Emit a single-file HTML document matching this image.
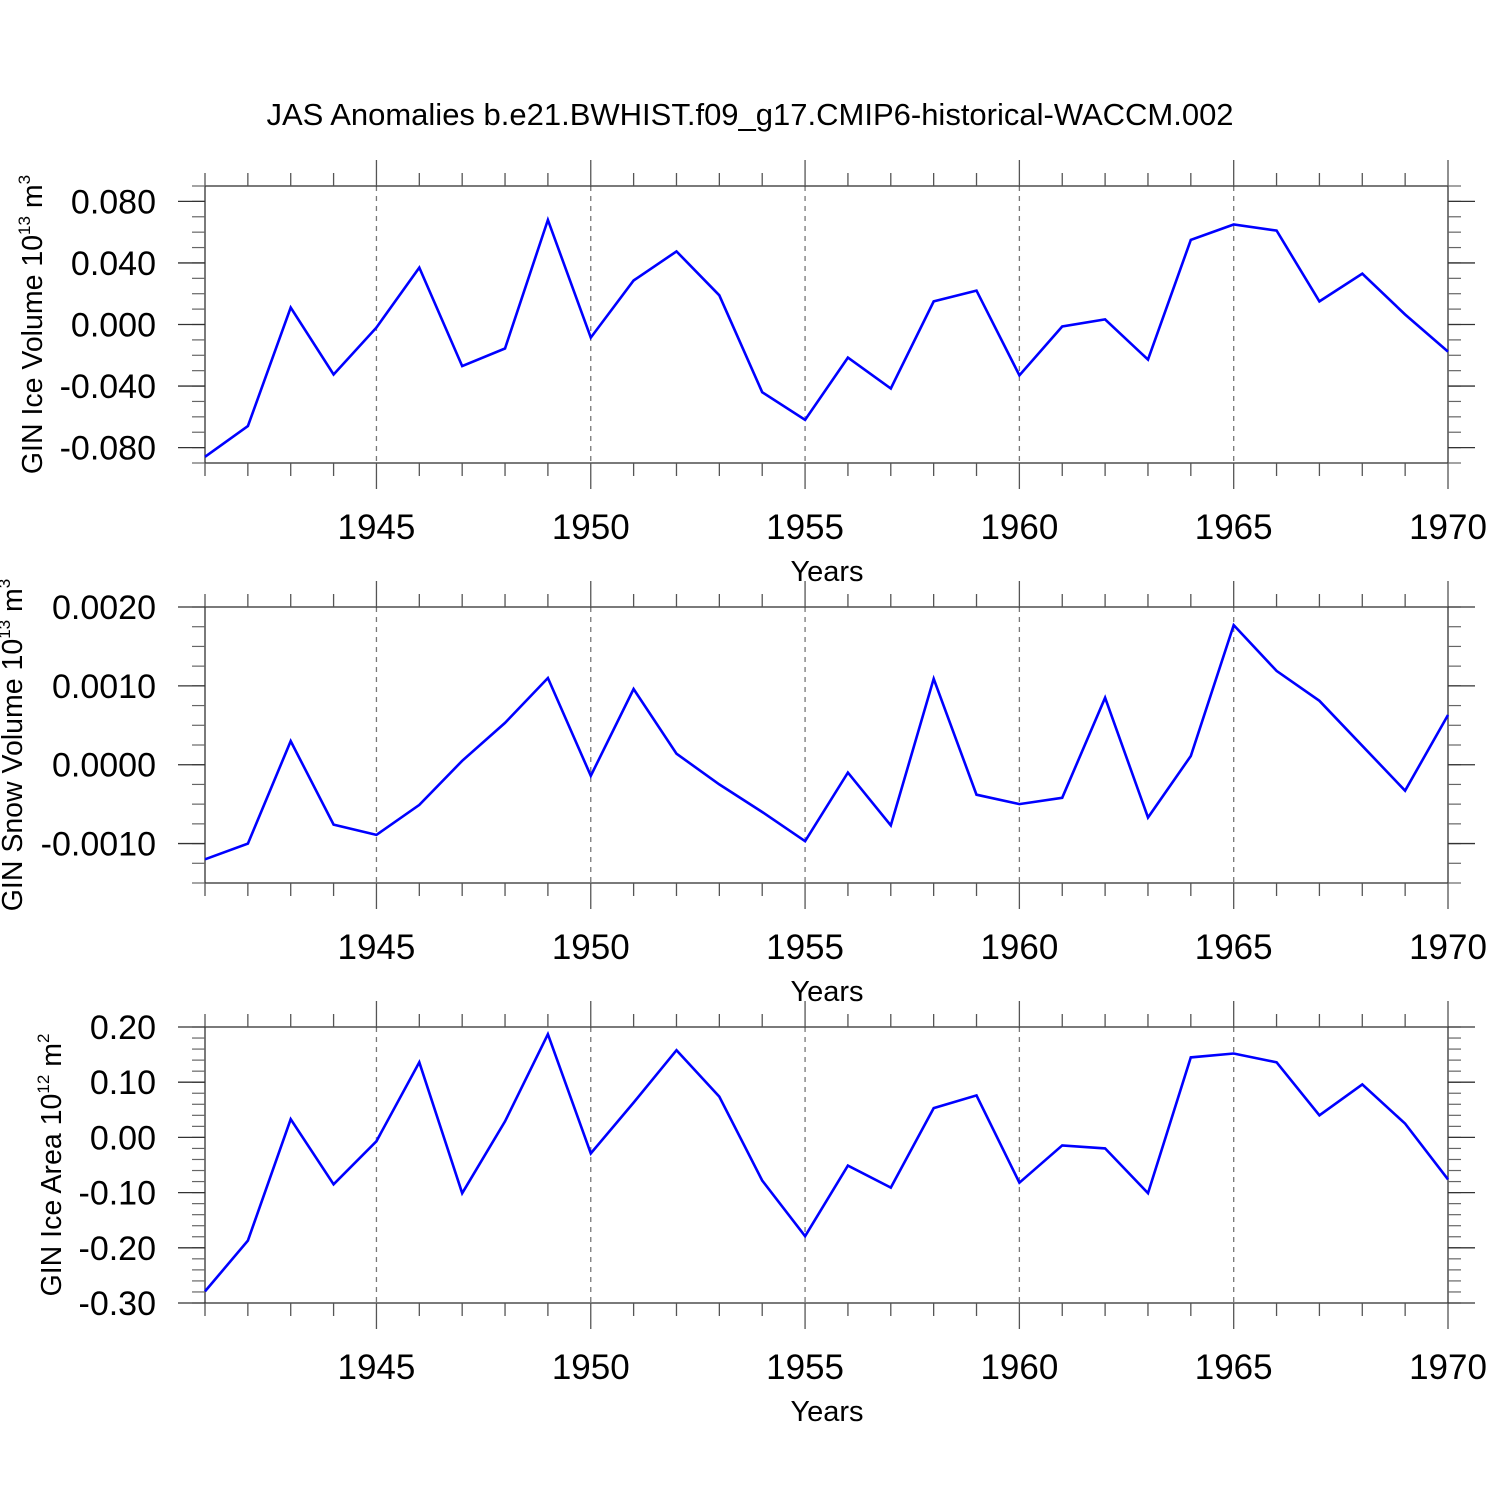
<!DOCTYPE html>
<html><head><meta charset="utf-8"><style>
body{margin:0;background:#fff}
svg{display:block;font-family:"Liberation Sans",sans-serif}
</style></head><body>
<svg id="chart" width="1500" height="1500" viewBox="0 0 1500 1500" xmlns="http://www.w3.org/2000/svg">
<text x="750" y="125" font-size="31" text-anchor="middle">JAS Anomalies b.e21.BWHIST.f09_g17.CMIP6-historical-WACCM.002</text>
</svg>
<script>
const years = [1941,1942,1943,1944,1945,1946,1947,1948,1949,1950,1951,1952,1953,1954,1955,1956,1957,1958,1959,1960,1961,1962,1963,1964,1965,1966,1967,1968,1969,1970];
const iceVolume = [-0.086,-0.066,0.011,-0.0325,-0.002,0.037,-0.027,-0.0156,0.068,-0.0085,0.0286,0.0475,0.019,-0.044,-0.062,-0.0215,-0.0416,0.015,0.022,-0.033,-0.0013,0.0033,-0.0228,0.055,0.065,0.061,0.015,0.033,0.0065,-0.0176];
const snowVolume = [-0.0012,-0.001,0.0003,-0.00076,-0.00089,-0.00051,0.00005,0.00053,0.0011,-0.00014,0.00096,0.00014,-0.00025,-0.0006,-0.00097,-0.0001,-0.00077,0.00109,-0.00038,-0.0005,-0.00042,0.00085,-0.00067,0.00011,0.00177,0.00119,0.00081,0.00024,-0.00033,0.00063];
const iceArea = [-0.279,-0.187,0.033,-0.085,-0.007,0.136,-0.101,0.029,0.187,-0.029,0.063,0.158,0.074,-0.078,-0.179,-0.051,-0.091,0.053,0.076,-0.082,-0.0145,-0.02,-0.101,0.145,0.152,0.136,0.04,0.096,0.025,-0.076];
const xTickYears = [1945,1950,1955,1960,1965,1970];
const iceVolTicks = [-0.08,-0.04,0,0.04,0.08];
const iceVolLabels = ["-0.080","-0.040","0.000","0.040","0.080"];
const snowTicks = [-0.001,0,0.001,0.002];
const snowLabels = ["-0.0010","0.0000","0.0010","0.0020"];
const areaTicks = [-0.3,-0.2,-0.1,0,0.1,0.2];
const areaLabels = ["-0.30","-0.20","-0.10","0.00","0.10","0.20"];

const NS="http://www.w3.org/2000/svg";
const svg=document.getElementById('chart');
const X0=205,X1=1448,XMIN=1941,XMAX=1970;
const xs=v=>X0+(v-XMIN)/(XMAX-XMIN)*(X1-X0);
function mk(tag,attrs,parent){const e=document.createElementNS(NS,tag);for(const k in attrs)e.setAttribute(k,attrs[k]);(parent||svg).appendChild(e);return e;}

const panels=[
 {name:'ice-volume',top:186,bot:463,ymin:-0.09,ymax:0.09,data:iceVolume,ticks:iceVolTicks,labels:iceVolLabels,minor:0.01,title:'GIN Ice Volume 10',sup:'13',unit:' m',usup:'3',tx:42},
 {name:'snow-volume',top:607,bot:883,ymin:-0.0015,ymax:0.002,data:snowVolume,ticks:snowTicks,labels:snowLabels,minor:0.00025,title:'GIN Snow Volume 10',sup:'13',unit:' m',usup:'3',tx:22},
 {name:'ice-area',top:1027,bot:1303,ymin:-0.3,ymax:0.2,data:iceArea,ticks:areaTicks,labels:areaLabels,minor:0.02,title:'GIN Ice Area 10',sup:'12',unit:' m',usup:'2',tx:61}
];
panels.forEach(p=>{
 const g=mk('g',{});
 
 
 const ys=v=>p.bot-(v-p.ymin)/(p.ymax-p.ymin)*(p.bot-p.top);
 xTickYears.forEach(yr=>{if(yr<XMAX){const l=mk('line',{x1:xs(yr),x2:xs(yr),y1:p.top,y2:p.bot,stroke:'#777','stroke-width':1.3,'stroke-dasharray':'5,5'},g);
  }});
 const fr=mk('rect',{x:X0,y:p.top,width:X1-X0,height:p.bot-p.top,fill:'none',stroke:'#333','stroke-width':1.3},g);
 
 years.forEach(yr=>{const major=xTickYears.includes(yr);const L=major?26:13;const x=xs(yr);
  mk('line',{x1:x,x2:x,y1:p.top,y2:p.top-L,stroke:'#555','stroke-width':1.3},g);
  mk('line',{x1:x,x2:x,y1:p.bot,y2:p.bot+L,stroke:'#555','stroke-width':1.3},g);});
 xTickYears.forEach(yr=>{const t=mk('text',{x:xs(yr),y:p.bot+76,'font-size':35,'text-anchor':'middle'},g);t.textContent=yr;
  });
 const xt=mk('text',{x:827,y:p.bot+118,'font-size':29,'text-anchor':'middle'},g);xt.textContent='Years';
 
 const n=Math.round((p.ymax-p.ymin)/p.minor);
 for(let i=0;i<=n;i++){const v=p.ymin+i*p.minor;const y=ys(v);
  mk('line',{x1:X0,x2:X0-13,y1:y,y2:y,stroke:'#666','stroke-width':1.2},g);
  mk('line',{x1:X1,x2:X1+13,y1:y,y2:y,stroke:'#666','stroke-width':1.2},g);}
 p.ticks.forEach((v,i)=>{const y=ys(v);
  mk('line',{x1:X0,x2:X0-27,y1:y,y2:y,stroke:'#333','stroke-width':1.3},g);
  mk('line',{x1:X1,x2:X1+27,y1:y,y2:y,stroke:'#333','stroke-width':1.3},g);
  const t=mk('text',{x:156,y:y+12,'font-size':34,'text-anchor':'end'},g);t.textContent=p.labels[i];
  });
 const cy=(p.top+p.bot)/2;
 const yt=mk('text',{x:0,y:0,'font-size':28.5,'text-anchor':'middle',transform:`translate(${p.tx},${cy}) rotate(-90)`},g);
 
 const s1=mk('tspan',{},yt);s1.textContent=p.title;
 const s2=mk('tspan',{'font-size':17,dy:-12},yt);s2.textContent=p.sup;
 const s3=mk('tspan',{dy:12},yt);s3.textContent=p.unit;
 const s4=mk('tspan',{'font-size':17,dy:-12},yt);s4.textContent=p.usup;
 const pts=p.data.map((v,i)=>xs(years[i]).toFixed(1)+','+ys(v).toFixed(1)).join(' ');
 const pl=mk('polyline',{points:pts,fill:'none',stroke:'#0000ff','stroke-width':2.6,'stroke-linejoin':'miter'},g);
 
});
</script>
</body></html>
